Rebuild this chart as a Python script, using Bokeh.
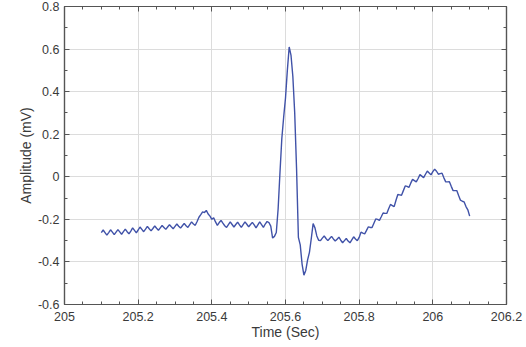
from bokeh.plotting import figure
from bokeh.models import (LinearAxis, FixedTicker, Grid, Range1d,
                          CustomJSTickFormatter, ColumnDataSource)
from bokeh.embed import file_html
from bokeh.resources import INLINE

t_start = 205.1
dt = 0.005
amplitude = [
    -0.262, -0.250, -0.262, -0.274, -0.262, -0.249, -0.260, -0.272, -0.260, -0.248,
    -0.259, -0.270, -0.258, -0.246, -0.258, -0.268, -0.255, -0.240, -0.252, -0.263,
    -0.250, -0.236, -0.247, -0.258, -0.246, -0.233, -0.244, -0.254, -0.243, -0.231,
    -0.242, -0.251, -0.240, -0.229, -0.238, -0.247, -0.236, -0.225, -0.235, -0.244,
    -0.233, -0.222, -0.232, -0.241, -0.230, -0.219, -0.230, -0.238, -0.225, -0.212,
    -0.222, -0.228, -0.210, -0.190, -0.178, -0.165, -0.168, -0.158, -0.175, -0.185,
    -0.200, -0.192, -0.212, -0.228, -0.215, -0.205, -0.218, -0.230, -0.238, -0.225,
    -0.212, -0.224, -0.236, -0.224, -0.213, -0.226, -0.238, -0.225, -0.212, -0.223,
    -0.235, -0.224, -0.214, -0.226, -0.240, -0.226, -0.212, -0.225, -0.238, -0.222,
    -0.210, -0.215, -0.232, -0.288, -0.280, -0.262, -0.150, 0.020, 0.180, 0.280,
    0.370, 0.500, 0.610, 0.570, 0.470, 0.300, 0.040, -0.285, -0.320, -0.410,
    -0.462, -0.440, -0.390, -0.355, -0.290, -0.220, -0.240, -0.278, -0.298, -0.300,
    -0.288, -0.278, -0.290, -0.300, -0.290, -0.280, -0.292, -0.302, -0.293, -0.284,
    -0.298, -0.310, -0.300, -0.290, -0.302, -0.310, -0.296, -0.282, -0.292, -0.300,
    -0.285, -0.260, -0.265, -0.268, -0.252, -0.235, -0.238, -0.238, -0.218, -0.198,
    -0.200, -0.205, -0.188, -0.170, -0.172, -0.172, -0.150, -0.130, -0.135, -0.140,
    -0.110, -0.083, -0.085, -0.087, -0.065, -0.043, -0.045, -0.050, -0.030, -0.012,
    -0.018, -0.024, -0.008, 0.010, 0.003, -0.004, 0.012, 0.027, 0.018, 0.009,
    0.024, 0.036, 0.026, 0.012, 0.015, 0.017, -0.005, -0.024, -0.024, -0.023,
    -0.045, -0.065, -0.065, -0.065, -0.088, -0.110, -0.115, -0.118, -0.140, -0.155,
    -0.185,
]
time = [round(t_start + dt * i, 3) for i in range(len(amplitude))]

x_limits = (205.0, 206.2)
y_limits = (-0.6, 0.8)
x_ticks = [205.0, 205.2, 205.4, 205.6, 205.8, 206.0, 206.2]
x_minor_ticks = [205.05, 205.1, 205.15, 205.25, 205.3, 205.35, 205.45, 205.5, 205.55,
                 205.65, 205.7, 205.75, 205.85, 205.9, 205.95, 206.05, 206.1, 206.15]
x_dotted_grid = [205.1, 205.3, 205.5, 205.7, 205.9, 206.1]
y_ticks = [-0.6, -0.4, -0.2, 0.0, 0.2, 0.4, 0.6, 0.8]
y_minor_ticks = [-0.5, -0.3, -0.1, 0.1, 0.3, 0.5, 0.7]
y_dotted_grid = [-0.5, -0.3, -0.1, 0.1, 0.3, 0.5, 0.7]
x_label = "Time (Sec)"
y_label = "Amplitude (mV)"

FONT = "Liberation Sans"
TICK_SIZE = "12.5px"
LABEL_SIZE = "14px"
TEXT_COLOR = "#3a3a3a"
FRAME_COLOR = "#555555"

p = figure(width=524, height=342, output_backend="svg", toolbar_location=None,
           x_range=Range1d(*x_limits), y_range=Range1d(*y_limits),
           min_border_left=64, min_border_right=18, min_border_top=6, min_border_bottom=37)
p.background_fill_color = "white"
p.border_fill_color = "white"
p.outline_line_color = FRAME_COLOR
p.outline_line_width = 1.2

fmt = CustomJSTickFormatter(code="var s = tick.toFixed(1); return s.replace(/\\.0$/, '');")
blank = CustomJSTickFormatter(code="return '';")

def xticker():
    return FixedTicker(ticks=x_ticks, minor_ticks=x_minor_ticks)

def yticker():
    return FixedTicker(ticks=y_ticks, minor_ticks=y_minor_ticks)

def style_axis(ax, ticker, formatter):
    ax.ticker = ticker
    ax.formatter = formatter
    ax.axis_line_color = FRAME_COLOR
    ax.axis_line_width = 1.2
    ax.major_tick_line_color = FRAME_COLOR
    ax.minor_tick_line_color = FRAME_COLOR
    ax.major_tick_in = 5
    ax.major_tick_out = 0
    ax.minor_tick_in = 3
    ax.minor_tick_out = 0
    ax.major_label_text_font = FONT
    ax.major_label_text_font_size = TICK_SIZE
    ax.major_label_text_color = TEXT_COLOR
    ax.axis_label_text_font = FONT
    ax.axis_label_text_font_size = LABEL_SIZE
    ax.axis_label_text_font_style = "normal"
    ax.axis_label_text_color = TEXT_COLOR

style_axis(p.xaxis[0], xticker(), fmt)
style_axis(p.yaxis[0], yticker(), fmt)
p.xaxis.axis_label = x_label
p.yaxis.axis_label = y_label
p.xaxis.major_label_standoff = 7
p.xaxis.axis_label_standoff = 0
p.yaxis.major_label_standoff = 5
p.yaxis.axis_label_standoff = 1

top_axis = LinearAxis()
style_axis(top_axis, xticker(), blank)
top_axis.major_label_text_font_size = "0px"
top_axis.major_label_standoff = 0
right_axis = LinearAxis()
style_axis(right_axis, yticker(), blank)
right_axis.major_label_text_font_size = "0px"
right_axis.major_label_standoff = 0
p.add_layout(top_axis, "above")
p.add_layout(right_axis, "right")

# dotted minor grid
p.add_layout(Grid(dimension=0, ticker=FixedTicker(ticks=x_dotted_grid),
                  grid_line_color="#c8c8c8", grid_line_dash="1 3", grid_line_width=1))
p.add_layout(Grid(dimension=1, ticker=FixedTicker(ticks=y_dotted_grid),
                  grid_line_color="#c8c8c8", grid_line_dash="1 3", grid_line_width=1))
# solid major grid
p.xgrid.ticker = FixedTicker(ticks=x_ticks)
p.ygrid.ticker = FixedTicker(ticks=y_ticks)
p.xgrid.grid_line_color = "#dcdcdc"
p.ygrid.grid_line_color = "#dcdcdc"
p.xgrid.grid_line_width = 1
p.ygrid.grid_line_width = 1

src = ColumnDataSource(dict(t=time, a=amplitude))
p.line("t", "a", source=src, line_color="#4052a8", line_width=1.4)

open("out.html", "w").write(file_html(p, INLINE))
